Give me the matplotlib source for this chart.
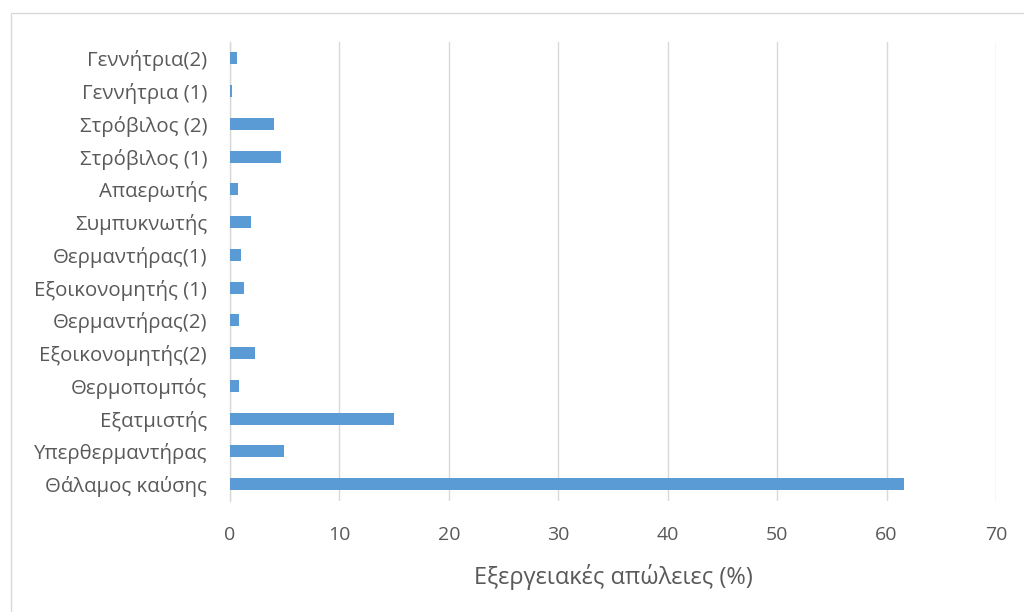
import matplotlib
matplotlib.use("Agg")
import matplotlib.pyplot as plt
from matplotlib.patches import Rectangle

categories = [
    "Θάλαμος καύσης",
    "Υπερθερμαντήρας",
    "Εξατμιστής",
    "Θερμοπομπός",
    "Εξοικονομητής(2)",
    "Θερμαντήρας(2)",
    "Εξοικονομητής (1)",
    "Θερμαντήρας(1)",
    "Συμπυκνωτής",
    "Απαερωτής",
    "Στρόβιλος (1)",
    "Στρόβιλος (2)",
    "Γεννήτρια (1)",
    "Γεννήτρια(2)",
]
losses = [61.6, 4.9, 15.0, 0.8, 2.3, 0.8, 1.3, 1.0, 1.9, 0.7, 4.7, 4.0, 0.2, 0.6]
xticks = [0, 10, 20, 30, 40, 50, 60, 70]
xlabel = "Εξεργειακές απώλειες (%)"

W, H = 1024, 612
plt.rcParams["font.family"] = ["Open Sans", "DejaVu Sans"]
text_color = "#595959"

fig = plt.figure(figsize=(W / 100, H / 100), dpi=100)
ax = fig.add_axes([230 / W, 1 - 500.5 / H, (996 - 230) / W, (500.5 - 42) / H])

y = range(len(categories))
ax.barh(y, losses, height=0.366, color="#5B9BD5", zorder=3)

ax.set_xlim(0, 70)
ax.set_ylim(-0.5, len(categories) - 0.5)
ax.set_xticks(xticks)
ax.set_xticklabels([str(t) for t in xticks], fontsize=14, color=text_color)
ax.set_yticks(list(y))
ax.set_yticklabels(categories, fontsize=14.7, color=text_color)
ax.tick_params(axis="both", length=0)
ax.tick_params(axis="x", pad=18)
ax.tick_params(axis="y", pad=16.5)
ax.grid(axis="x", color="#D9D9D9", linewidth=1.0, zorder=0)
for s in ["top", "right", "bottom"]:
    ax.spines[s].set_visible(False)
ax.spines["left"].set_color("#D9D9D9")
ax.spines["left"].set_linewidth(1.0)
ax.set_xlabel(xlabel, fontsize=17, color=text_color, labelpad=15)

# chart-area frame
fig.patches.append(Rectangle((10.5 / W, -0.1), 1.1, 1 - 13 / H + 0.1,
                             transform=fig.transFigure, fill=False,
                             edgecolor="#D9D9D9", linewidth=1.0))

fig.savefig("out.png", dpi=100, facecolor="white")
